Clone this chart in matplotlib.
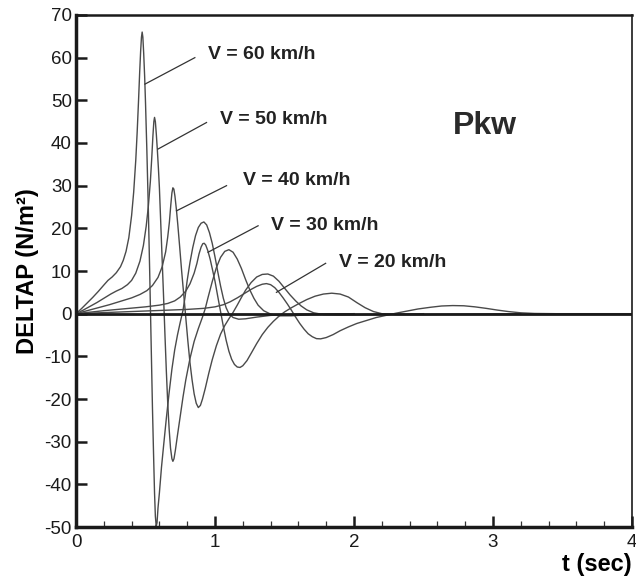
import matplotlib
matplotlib.use('Agg')
import matplotlib.pyplot as plt
from matplotlib.ticker import MultipleLocator

plt.rcParams['font.family'] = ['Liberation Sans', 'DejaVu Sans']
plt.rcParams['axes.unicode_minus'] = False

# ---- data (time in s, DELTAP in N/m^2) ----
t_v60 = [0, 0.04, 0.08, 0.12, 0.16, 0.20, 0.23, 0.26, 0.29, 0.32, 0.34, 0.36, 0.38,
         0.40, 0.415, 0.43, 0.44, 0.45, 0.458, 0.465, 0.471, 0.476, 0.481, 0.487,
         0.494, 0.50, 0.51, 0.52, 0.53, 0.54, 0.55, 0.558, 0.565, 0.571, 0.577, 0.583,
         0.59, 0.60, 0.615, 0.63, 0.65, 0.67, 0.69, 0.71, 0.73, 0.75, 0.77, 0.785,
         0.80, 0.82, 0.84, 0.86, 0.88, 0.90, 0.92, 0.94, 0.96, 0.98, 1.00, 1.02, 1.04,
         1.06, 1.08, 1.10, 1.13, 1.17, 1.22, 1.30, 1.40, 1.60, 2.00]
p_v60 = [0, 1.2, 2.5, 3.8, 5.2, 6.7, 7.8, 8.6, 9.6, 11.0, 12.5, 14.6, 17.8,
         23.0, 28.5, 36.0, 42.5, 50.0, 56.5, 61.5, 64.8, 66.0, 64.8, 61.0,
         55.5, 49.5, 38.0, 25.0, 10.0, -6.0, -22.0, -33.0, -42.0, -47.5, -49.8, -49.0,
         -45.5, -42.0, -36.0, -31.0, -24.5, -18.5, -13.0, -8.5, -5.0, -2.0, 0.8, 4.0,
         7.8, 12.0, 15.5, 18.3, 20.2, 21.2, 21.5, 20.8, 19.0, 16.5, 13.3, 9.8, 6.5,
         3.6, 1.4, 0.0, -0.9, -1.3, -1.2, -0.8, -0.4, -0.1, 0.0]

t_v50 = [0, 0.05, 0.10, 0.15, 0.20, 0.25, 0.29, 0.33, 0.37, 0.40, 0.43, 0.46, 0.485,
         0.505, 0.52, 0.535, 0.545, 0.553, 0.56, 0.565, 0.571, 0.578, 0.585, 0.593,
         0.60, 0.61, 0.62, 0.63, 0.64, 0.65, 0.66, 0.67, 0.68, 0.69, 0.697, 0.705,
         0.715, 0.73, 0.75, 0.77, 0.79, 0.82, 0.85, 0.88, 0.91, 0.93, 0.95, 0.98, 1.01,
         1.04, 1.07, 1.10, 1.13, 1.16, 1.19, 1.22, 1.25, 1.28, 1.31, 1.35, 1.40, 1.46,
         1.55, 1.70, 2.00]
p_v50 = [0, 0.8, 1.7, 2.6, 3.6, 4.6, 5.3, 5.9, 6.8, 7.8, 9.5, 12.3, 16.0,
         20.5, 25.0, 31.0, 36.5, 41.5, 45.0, 46.0, 45.0, 42.0, 38.5, 34.0,
         29.5, 21.0, 12.5, 4.0, -5.0, -13.5, -21.0, -27.0, -31.5, -34.0, -34.6, -34.0,
         -32.0, -28.5, -24.0, -19.5, -15.5, -10.5, -6.5, -3.5, -0.8, 1.2, 3.8, 7.5, 10.8,
         13.2, 14.6, 15.0, 14.4, 12.8, 10.6, 8.0, 5.6, 3.6, 2.0, 0.7, -0.1, -0.5,
         -0.5, -0.2, 0.0]

t_v40 = [0, 0.08, 0.16, 0.24, 0.32, 0.40, 0.46, 0.51, 0.55, 0.59, 0.62, 0.645, 0.66,
         0.672, 0.682, 0.69, 0.697, 0.704, 0.712, 0.722, 0.732, 0.745, 0.76, 0.775,
         0.79, 0.805, 0.82, 0.835, 0.85, 0.865, 0.88, 0.895, 0.91, 0.93, 0.955, 0.98,
         1.01, 1.04, 1.07, 1.10, 1.13, 1.16, 1.19, 1.22, 1.26, 1.30, 1.34, 1.38, 1.42,
         1.46, 1.50, 1.54, 1.58, 1.62, 1.66, 1.71, 1.78, 1.90, 2.10, 2.50]
p_v40 = [0, 0.7, 1.4, 2.1, 2.9, 3.7, 4.5, 5.4, 6.6, 8.5, 11.0, 14.5, 18.0,
         21.5, 25.5, 28.3, 29.5, 29.2, 27.5, 24.5, 21.0, 16.0, 10.0, 4.5,
         -1.0, -6.5, -11.5, -15.5, -18.8, -21.0, -22.0, -21.5, -20.0, -17.5, -14.0, -10.8,
         -7.5, -4.8, -2.8, -1.2, 0.3, 2.0, 3.8, 5.5, 7.3, 8.6, 9.2, 9.3, 8.8,
         7.6, 6.0, 4.4, 3.0, 1.8, 0.9, 0.2, -0.2, -0.3, -0.2, 0.0]

t_v30 = [0, 0.1, 0.2, 0.3, 0.4, 0.5, 0.6, 0.66, 0.71, 0.75, 0.79, 0.82, 0.85, 0.87,
         0.885, 0.90, 0.912, 0.922, 0.933, 0.948, 0.965, 0.982, 1.0, 1.02, 1.04, 1.06,
         1.08, 1.10, 1.12, 1.14, 1.16, 1.18, 1.20, 1.23, 1.26, 1.30, 1.34, 1.38, 1.42,
         1.46, 1.50, 1.55, 1.60, 1.66, 1.72, 1.78, 1.84, 1.90, 1.96, 2.02, 2.08, 2.14,
         2.20, 2.30, 2.50, 2.80, 3.20]
p_v30 = [0, 0.35, 0.7, 1.0, 1.3, 1.6, 2.0, 2.4, 3.0, 3.9, 5.3, 7.0, 9.5, 11.8,
         14.0, 15.6, 16.4, 16.5, 16.1, 14.8, 12.8, 10.3, 7.6, 4.0, 0.5, -3.0,
         -6.2, -8.8, -10.7, -11.9, -12.5, -12.6, -12.2, -11.0, -9.3, -7.0, -4.9, -3.2, -1.8,
         -0.6, 0.4, 1.4, 2.3, 3.3, 4.1, 4.6, 4.8, 4.6, 3.9, 2.6, 1.4, 0.5,
         0.0, -0.2, -0.2, -0.1, 0.0]

t_v20 = [0, 0.2, 0.4, 0.6, 0.8, 0.92, 1.0, 1.06, 1.11, 1.16, 1.21, 1.26, 1.30, 1.34,
         1.37, 1.40, 1.43, 1.46, 1.49, 1.52, 1.55, 1.58, 1.61, 1.64, 1.67, 1.70, 1.73,
         1.76, 1.80, 1.85, 1.90, 1.96, 2.02, 2.09, 2.16, 2.23, 2.30, 2.38, 2.46, 2.55,
         2.63, 2.71, 2.79, 2.87, 2.95, 3.03, 3.11, 3.20, 3.30, 3.45, 4.00]
p_v20 = [0, 0.25, 0.5, 0.75, 1.0, 1.25, 1.6, 2.1, 2.8, 3.7, 4.7, 5.7, 6.4, 6.9,
         7.05, 6.8, 6.1, 5.0, 3.7, 2.3, 0.8, -0.8, -2.3, -3.6, -4.7, -5.4, -5.85,
         -5.9, -5.6, -4.9, -4.0, -3.1, -2.3, -1.6, -0.9, -0.4, 0.1, 0.6, 1.1, 1.5,
         1.8, 1.9, 1.85, 1.6, 1.25, 0.85, 0.5, 0.2, 0.05, 0.0, 0.0]

series_t = [t_v60, t_v50, t_v40, t_v30, t_v20]
series_p = [p_v60, p_v50, p_v40, p_v30, p_v20]
series_labels = ['V = 60 km/h', 'V = 50 km/h', 'V = 40 km/h', 'V = 30 km/h', 'V = 20 km/h']

x_ticks = [0, 1, 2, 3, 4]
y_ticks = [-50, -40, -30, -20, -10, 0, 10, 20, 30, 40, 50, 60, 70]

# ---- layout (annotation placement) ----
label_text_pos = [(0.95, 60.8), (1.034, 45.6), (1.202, 31.1), (1.406, 20.6), (1.89, 12.0)]
leader_start = [(0.855, 60.0), (0.939, 44.8), (1.083, 30.0), (1.31, 20.6), (1.796, 11.8)]
leader_end = [(0.496, 53.8), (0.591, 38.6), (0.723, 24.1), (0.95, 14.4), (1.442, 5.0)]

fig = plt.figure(figsize=(6.36, 5.81), dpi=100)
fig.patch.set_facecolor('white')
ax = fig.add_axes([0.1195, 0.0929, 0.8742, 0.8813])

ax.axhline(0, color='#1a1a1a', lw=2.0, zorder=3)

for ts, ps in zip(series_t, series_p):
    ax.plot(ts, ps, color='#4a4a4a', lw=1.0, zorder=2, solid_joinstyle='round')

for lab, tp, ls, le in zip(series_labels, label_text_pos, leader_start, leader_end):
    ax.plot([ls[0], le[0]], [ls[1], le[1]], color='#333333', lw=0.9, zorder=2)
    ax.text(tp[0], tp[1], lab, ha='left', va='center', fontsize=14,
            fontweight='bold', color='#222222')

ax.text(2.94, 44.0, 'Pkw', ha='center', va='center', fontsize=23,
        fontweight='bold', color='#2a2a2a')

ax.set_xlim(0, 4)
ax.set_ylim(-50, 70)
ax.set_xticks(x_ticks)
ax.set_yticks(y_ticks)
ax.xaxis.set_minor_locator(MultipleLocator(0.2))

ax.tick_params(axis='both', which='major', direction='in', length=8, width=1.8,
               labelsize=13.5, colors='#1a1a1a', top=False, right=False)
ax.tick_params(axis='x', which='major', pad=5)
ax.tick_params(axis='y', which='major', pad=3)
ax.tick_params(axis='x', which='minor', direction='in', length=4, width=0.9,
               top=False, colors='#333333')

for side, lw in [('left', 2.5), ('bottom', 2.5), ('top', 1.8), ('right', 1.2)]:
    ax.spines[side].set_linewidth(lw)
    ax.spines[side].set_color('#1a1a1a')

ax.set_ylabel('DELTAP (N/m²)', fontsize=17, fontweight='bold', labelpad=4)
fig.text(632 / 636, 1 - 565 / 581, 't (sec)', ha='right', va='center',
         fontsize=17, fontweight='bold')

fig.savefig('out.png', dpi=100, facecolor='white')
